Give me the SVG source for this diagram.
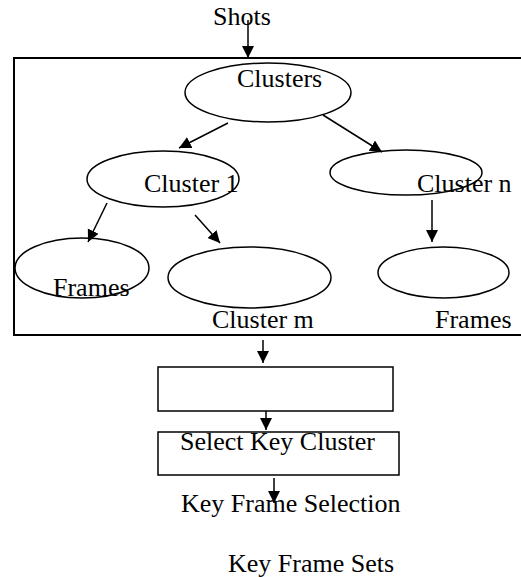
<svg xmlns="http://www.w3.org/2000/svg" width="521" height="577" viewBox="0 0 521 577">
<style>
text{font-family:"Liberation Serif","Times New Roman",serif;font-size:26px;fill:#000}
.n{fill:none;stroke:#000;stroke-width:1.5}
.c{stroke:#000;stroke-width:1.5;fill:none;marker-end:url(#ah)}
</style>
<defs>
<marker id="ah" markerUnits="userSpaceOnUse" markerWidth="12" markerHeight="13" refX="12" refY="6" orient="auto">
<path d="M0,0 L12,6 L0,12 Z" fill="#000"/>
</marker>
</defs>
<rect width="521" height="577" fill="#fff"/>
<g id="frame"><path class="n" d="M530,58 H14 V335 H530" style="stroke-width:2"/></g>
<g id="shots"><text x="213" y="25">Shots</text></g>
<g id="clusters"><ellipse class="n" cx="268" cy="92.5" rx="83" ry="29.5"/><text x="237" y="87">Clusters</text></g>
<g id="cluster1"><ellipse class="n" cx="163" cy="179" rx="76" ry="28"/><text x="144" y="192">Cluster 1</text></g>
<g id="clustern"><ellipse class="n" cx="406" cy="172.5" rx="76" ry="22.5"/><text x="417" y="192">Cluster n</text></g>
<g id="frames1"><ellipse class="n" cx="82" cy="268" rx="67" ry="30"/><text x="53" y="296">Frames</text></g>
<g id="clusterm"><ellipse class="n" cx="249.5" cy="277.5" rx="81.5" ry="30.5"/><text x="212" y="328">Cluster m</text></g>
<g id="frames2"><ellipse class="n" cx="443.5" cy="272.5" rx="65.5" ry="25.5"/><text x="435" y="328">Frames</text></g>
<g id="box1"><rect class="n" x="158" y="367" width="235" height="44"/></g>
<g id="box2"><rect class="n" x="158" y="432" width="241" height="43"/><text x="180" y="450">Select Key Cluster</text></g>
<g id="kfsel"><text x="181" y="512">Key Frame Selection</text></g>
<g id="kfsets"><text x="228" y="572">Key Frame Sets</text></g>
<g id="connectors">
<line class="c" x1="248" y1="20" x2="248" y2="58"/>
<line class="c" x1="228" y1="123" x2="179" y2="148"/>
<line class="c" x1="323" y1="115" x2="382" y2="152"/>
<line class="c" x1="107" y1="203" x2="88" y2="242"/>
<line class="c" x1="195" y1="215" x2="220" y2="243"/>
<line class="c" x1="432" y1="200" x2="432" y2="242"/>
<line class="c" x1="263" y1="340" x2="263" y2="363"/>
<line class="c" x1="266" y1="411" x2="266" y2="430"/>
<line class="c" x1="274" y1="478" x2="274" y2="503"/>
</g>
</svg>
